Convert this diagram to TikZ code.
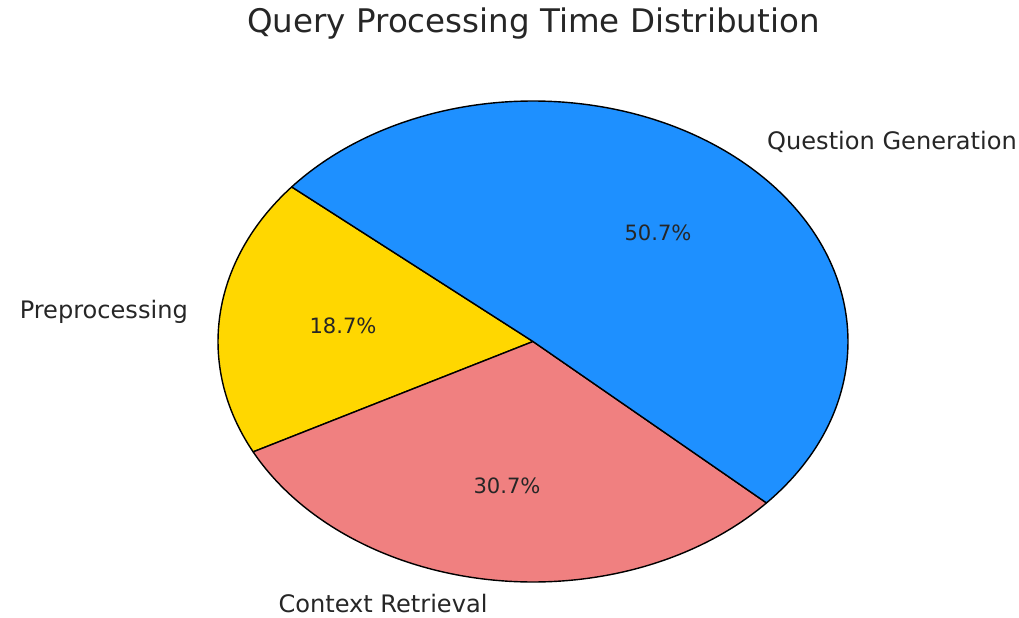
\documentclass[tikz,border=0pt]{standalone}
\usepackage{fontspec}
\setmainfont{DejaVu Sans}
\usepackage{xcolor}
\usepackage{tikz}
\usetikzlibrary{positioning}

\definecolor{prepcol}{HTML}{FFD700}
\definecolor{ctxcol}{HTML}{F08080}
\definecolor{gencol}{HTML}{1E90FF}

\begin{document}
\begin{tikzpicture}[slice/.style={draw=black, line width=0.8pt, line join=round}, lbl/.style={text=black!85, font=\fontsize{13.7}{16}\selectfont}, pct/.style={text=black!85, font=\fontsize{12}{14}\selectfont}]
    \useasboundingbox (0,0) rectangle (20.38,12.34);
    \coordinate (c) at (10.66,5.51);
    % slices, start angle 140, counter clockwise
    \filldraw[slice, fill=prepcol] (c) -- ++(140:6.30 and 4.81) arc[start angle=140, end angle=207.32, x radius=6.30, y radius=4.81] -- cycle;
    \filldraw[slice, fill=ctxcol] (c) -- ++(207.32:6.30 and 4.81) arc[start angle=207.32, end angle=317.84, x radius=6.30, y radius=4.81] -- cycle;
    \filldraw[slice, fill=gencol] (c) -- ++(317.84:6.30 and 4.81) arc[start angle=317.84, end angle=500, x radius=6.30, y radius=4.81] -- cycle;
    \node[text=black!85, font=\fontsize{18.5}{22}\selectfont] (title) at (10.67,11.86) {Query Processing Time Distribution};
    \node[lbl, anchor=west] (gen) at (15.22,9.50) {Question Generation};
    \node[lbl, anchor=east] (prep) at (3.88,6.10) {Preprocessing};
    \node[lbl] (ctx) at (7.66,0.26) {Context Retrieval};
    \node[pct] (genp) at (13.16,7.68) {50.7\%};
    \node[pct] (prepp) at (6.86,5.82) {18.7\%};
    \node[pct] (ctxp) at (10.14,2.62) {30.7\%};
  \end{tikzpicture}
\end{document}
